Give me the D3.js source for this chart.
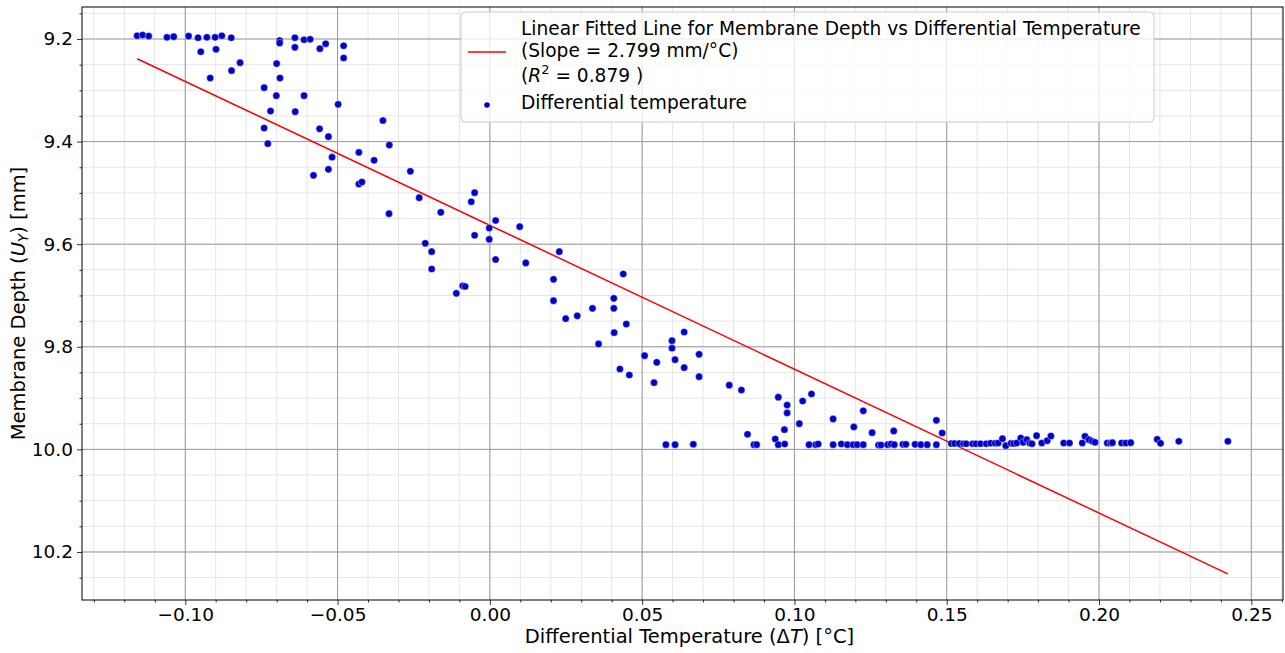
<!DOCTYPE html>
<html>
<head>
<meta charset="utf-8">
<script src="https://cdn.jsdelivr.net/npm/d3@7"></script>
<style>
  html, body { margin: 0; padding: 0; background: #fff; }
  svg { display: block; font-family: "DejaVu Sans", sans-serif; }
</style>
</head>
<body>
<svg id="chart" width="1285" height="653"></svg>
<script>
// ---------- data ----------
const deltaT = [
  -0.1158, -0.1140, -0.1120, -0.1060, -0.1038, -0.0989, -0.0958, -0.0929, -0.0902, -0.0880,
  -0.0849, -0.0949, -0.0899, -0.0918, -0.0848, -0.0820, -0.0741, -0.0700, -0.0690, -0.0690,
  -0.0689, -0.0701, -0.0720, -0.0741, -0.0729, -0.0640, -0.0640, -0.0610, -0.0590, -0.0610,
  -0.0639, -0.0558, -0.0539, -0.0480, -0.0480, -0.0498, -0.0559, -0.0530, -0.0351, -0.0330,
  -0.0430, -0.0380, -0.0518, -0.0530, -0.0579, -0.0261, -0.0430, -0.0420, -0.0331, -0.0232,
  -0.0161, -0.0212, -0.0191, -0.0191, -0.0110, -0.0089, -0.0081, -0.0061, -0.0050, -0.0050,
  -0.0002, -0.0002, 0.0019, 0.0019, 0.0098, 0.0118, 0.0228, 0.0209, 0.0209, 0.0249,
  0.0287, 0.0337, 0.0407, 0.0407, 0.0438, 0.0448, 0.0408, 0.0357, 0.0427, 0.0458,
  0.0508, 0.0548, 0.0539, 0.0598, 0.0598, 0.0608, 0.0638, 0.0638, 0.0687, 0.0687,
  0.0786, 0.0826, 0.0947, 0.1027, 0.1056, 0.0578, 0.0608, 0.0668, 0.0846, 0.0867,
  0.0876, 0.0976, 0.0976, 0.0937, 0.0947, 0.0967, 0.0968, 0.1016, 0.1048, 0.1070,
  0.1078, 0.1127, 0.1127, 0.1154, 0.1174, 0.1193, 0.1206, 0.1226, 0.1195, 0.1226,
  0.1255, 0.1276, 0.1284, 0.1306, 0.1317, 0.1328, 0.1326, 0.1356, 0.1366, 0.1396,
  0.1415, 0.1436, 0.1466, 0.1466, 0.1485, 0.1515, 0.1526, 0.1541, 0.1555, 0.1564,
  0.1585, 0.1596, 0.1611, 0.1630, 0.1644, 0.1659, 0.1669, 0.1683, 0.1694, 0.1711,
  0.1720, 0.1730, 0.1743, 0.1751, 0.1763, 0.1773, 0.1780, 0.1795, 0.1812, 0.1830,
  0.1842, 0.1884, 0.1903, 0.1945, 0.1954, 0.1967, 0.1978, 0.1987, 0.2027, 0.2038,
  0.2044, 0.2074, 0.2088, 0.2104, 0.2191, 0.2202, 0.2262, 0.2423
];
const depth = [
  9.1936, 9.1922, 9.1942, 9.1967, 9.1955, 9.1942, 9.1975, 9.1967, 9.1967, 9.1936,
  9.1975, 9.2248, 9.2201, 9.2760, 9.2618, 9.2462, 9.2949, 9.2478, 9.2029, 9.2078,
  9.2760, 9.3105, 9.3404, 9.3735, 9.4041, 9.1975, 9.2162, 9.2014, 9.2006, 9.3105,
  9.3417, 9.2189, 9.2092, 9.2131, 9.2370, 9.3273, 9.3750, 9.3904, 9.3589, 9.4066,
  9.4209, 9.4365, 9.4304, 9.4540, 9.4657, 9.4579, 9.4827, 9.4788, 9.5405, 9.5094,
  9.5378, 9.5982, 9.6146, 9.6483, 9.6957, 9.6811, 9.6825, 9.5172, 9.4996, 9.5827,
  9.5684, 9.5905, 9.5538, 9.6298, 9.5659, 9.6366, 9.6146, 9.6684, 9.7101, 9.7452,
  9.7396, 9.7250, 9.7055, 9.7250, 9.6581, 9.7556, 9.7725, 9.7945, 9.8433, 9.8550,
  9.8174, 9.8302, 9.8700, 9.7881, 9.8027, 9.8251, 9.7712, 9.8407, 9.8146, 9.8583,
  9.8749, 9.8842, 9.8983, 9.9057, 9.8920, 9.9908, 9.9908, 9.9900, 9.9706, 9.9908,
  9.9908, 9.9135, 9.9290, 9.9797, 9.9908, 9.9616, 9.9895, 9.9499, 9.9908, 9.9908,
  9.9895, 9.9407, 9.9908, 9.9895, 9.9908, 9.9908, 9.9908, 9.9908, 9.9563, 9.9248,
  9.9674, 9.9914, 9.9914, 9.9908, 9.9895, 9.9908, 9.9641, 9.9901, 9.9901, 9.9901,
  9.9908, 9.9908, 9.9908, 9.9433, 9.9680, 9.9885, 9.9885, 9.9885, 9.9890, 9.9890,
  9.9890, 9.9890, 9.9890, 9.9890, 9.9880, 9.9880, 9.9875, 9.9792, 9.9928, 9.9882,
  9.9885, 9.9875, 9.9778, 9.9862, 9.9811, 9.9880, 9.9890, 9.9733, 9.9875, 9.9830,
  9.9739, 9.9875, 9.9875, 9.9875, 9.9745, 9.9810, 9.9842, 9.9862, 9.9875, 9.9875,
  9.9870, 9.9875, 9.9875, 9.9870, 9.9803, 9.9881, 9.9842, 9.9842
];
// fitted line end points (slope 2.799 mm/°C)
const fitT = [-0.1158, 0.2423];
const fitDepth = [9.2384, 10.2427];

const xTicks = [-0.10, -0.05, 0.00, 0.05, 0.10, 0.15, 0.20, 0.25];
const yTicks = [9.2, 9.4, 9.6, 9.8, 10.0, 10.2];
const legendFitLines = ["Linear Fitted Line for Membrane Depth vs Differential Temperature", "(Slope = 2.799 mm/°C)", "(R^2 = 0.879 )"];
const legendScatter = "Differential temperature";

// ---------- layout ----------
const L = 82, R = 1283, T = 7, B = 600;
const svg = d3.select("#chart");
const x = d3.scaleLinear().domain([-0.1339, 0.2604]).range([L, R]);
const y = d3.scaleLinear().domain([9.1376, 10.2936]).range([T, B]);

// minor grid
const xMinor = d3.range(-0.13, 0.2605, 0.01).map(v => +v.toFixed(2));
const yMinor = d3.range(9.15, 10.29, 0.05).map(v => +v.toFixed(2));
const grid = svg.append("g");
grid.selectAll(".xm").data(xMinor).enter().append("line")
  .attr("x1", d => x(d)).attr("x2", d => x(d)).attr("y1", T).attr("y2", B)
  .attr("stroke", "#e6e6e6").attr("stroke-width", 1);
grid.selectAll(".ym").data(yMinor).enter().append("line")
  .attr("y1", d => y(d)).attr("y2", d => y(d)).attr("x1", L).attr("x2", R)
  .attr("stroke", "#e6e6e6").attr("stroke-width", 1);
// major grid
grid.selectAll(".xM").data(xTicks).enter().append("line")
  .attr("x1", d => x(d)).attr("x2", d => x(d)).attr("y1", T).attr("y2", B)
  .attr("stroke", "#9a9a9a").attr("stroke-width", 1);
grid.selectAll(".yM").data(yTicks).enter().append("line")
  .attr("y1", d => y(d)).attr("y2", d => y(d)).attr("x1", L).attr("x2", R)
  .attr("stroke", "#9a9a9a").attr("stroke-width", 1);

// fitted line
svg.append("path")
  .datum(fitT.map((t, i) => [t, fitDepth[i]]))
  .attr("d", d3.line().x(d => x(d[0])).y(d => y(d[1])))
  .attr("fill", "none").attr("stroke", "#ff0000").attr("stroke-width", 1.5);

// scatter
svg.append("g").selectAll("circle").data(deltaT.map((t, i) => [t, depth[i]]))
  .enter().append("circle")
  .attr("cx", d => x(d[0])).attr("cy", d => y(d[1])).attr("r", 3.6)
  .attr("fill", "#0000cc").attr("stroke", "#ffffff").attr("stroke-width", 0.4);

// axes
const fmtX = v => d3.format(".2f")(v).replace("-", "\u2212");
const xAxis = d3.axisBottom(x).tickValues(xTicks).tickFormat(fmtX).tickSize(5).tickPadding(3);
const yAxis = d3.axisLeft(y).tickValues(yTicks).tickFormat(d3.format(".1f")).tickSize(5).tickPadding(4);
const gx = svg.append("g").attr("transform", `translate(0,${B})`).call(xAxis);
const gy = svg.append("g").attr("transform", `translate(${L},0)`).call(yAxis);
// minor ticks
svg.append("g").attr("transform", `translate(0,${B})`)
  .call(d3.axisBottom(x).tickValues(xMinor.filter(v => !xTicks.some(t => Math.abs(t - v) < 1e-9))).tickSize(2.5).tickFormat(""));
svg.append("g").attr("transform", `translate(${L},0)`)
  .call(d3.axisLeft(y).tickValues(yMinor.filter(v => !yTicks.some(t => Math.abs(t - v) < 1e-9))).tickSize(2.5).tickFormat(""));
svg.selectAll(".domain").remove();
[gx, gy].forEach(g => g.selectAll("text").attr("font-size", 18.5).attr("fill", "#000").attr("font-family", "DejaVu Sans"));
svg.selectAll(".tick line").attr("stroke", "#000").attr("stroke-width", 0.8);

// frame
svg.append("rect").attr("x", L).attr("y", T).attr("width", R - L).attr("height", B - T)
  .attr("fill", "none").attr("stroke", "#000").attr("stroke-width", 1);

// axis titles
const xt = svg.append("text").attr("x", (L + R) / 2 + 7).attr("y", 643)
  .attr("text-anchor", "middle").attr("font-size", 19.5).attr("fill", "#000");
xt.append("tspan").text("Differential Temperature (Δ");
xt.append("tspan").attr("font-style", "italic").text("T");
xt.append("tspan").text(") [°C]");

const yt = svg.append("text").attr("transform", `translate(25,${(T + B) / 2}) rotate(-90)`)
  .attr("text-anchor", "middle").attr("font-size", 19.5).attr("fill", "#000");
yt.append("tspan").text("Membrane Depth (");
yt.append("tspan").attr("font-style", "italic").text("U");
yt.append("tspan").attr("font-style", "italic").attr("font-size", 13.5).attr("dy", 3).text("Y");
yt.append("tspan").attr("dy", -3).text(") [mm]");

// legend
const lg = svg.append("g");
lg.append("rect").attr("x", 461).attr("y", 12).attr("width", 693).attr("height", 110).attr("rx", 4)
  .attr("fill", "#fff").attr("fill-opacity", 0.8).attr("stroke", "#cccccc").attr("stroke-width", 1);
lg.append("line").attr("x1", 468).attr("x2", 506).attr("y1", 52).attr("y2", 52)
  .attr("stroke", "#ff0000").attr("stroke-width", 1.5);
lg.append("circle").attr("cx", 487).attr("cy", 105).attr("r", 2.8).attr("fill", "#0000cc");
const fs = 18.6;
lg.append("text").attr("x", 521).attr("y", 35).attr("font-size", fs).text(legendFitLines[0]);
lg.append("text").attr("x", 521).attr("y", 57).attr("font-size", fs).text(legendFitLines[1]);
const r2 = lg.append("text").attr("x", 521).attr("y", 82).attr("font-size", fs);
r2.append("tspan").text("(");
r2.append("tspan").attr("font-style", "italic").text("R");
r2.append("tspan").attr("font-size", 13).attr("dy", -8).text("2");
r2.append("tspan").attr("dy", 8).text(" = 0.879 )");
lg.append("text").attr("x", 521).attr("y", 109).attr("font-size", fs).text(legendScatter);
</script>
</body>
</html>
